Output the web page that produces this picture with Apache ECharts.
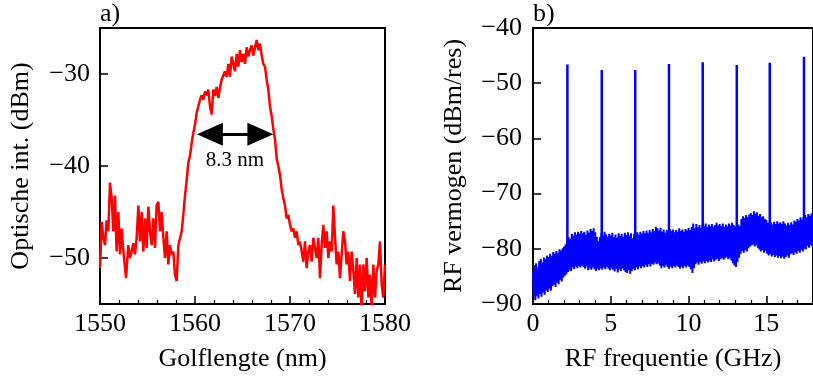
<!DOCTYPE html>
<html>
<head>
<meta charset="utf-8">
<script src="https://cdn.jsdelivr.net/npm/echarts@6/dist/echarts.min.js"></script>
<style>html,body{margin:0;padding:0;background:#fff}#c{width:813px;height:377px}</style>
</head>
<body>
<div id="c"></div>
<script>
// ---------- Panel a) optical spectrum ----------
const optWavelength = [
1550.00,1550.18,1550.35,1550.53,1550.70,1550.88,1551.05,1551.23,1551.40,1551.58,
1551.75,1551.93,1552.11,1552.28,1552.46,1552.74,1552.98,1553.16,1553.33,1553.51,
1553.68,1553.86,1554.04,1554.21,1554.39,1554.56,1554.74,1554.91,1555.09,1555.26,
1555.44,1555.61,1555.79,1555.96,1556.14,1556.32,1556.49,1556.67,1556.84,1557.02,
1557.19,1557.37,1557.54,1557.72,1557.89,1558.07,1558.25,1558.42,1558.60,1558.77,
1558.95,1559.12,1559.30,1559.47,1559.65,1559.82,1560.00,1560.18,1560.35,1560.53,
1560.70,1560.88,1561.05,1561.23,1561.40,1561.58,1561.75,1561.93,1562.11,1562.28,
1562.46,1562.63,1562.81,1562.98,1563.16,1563.33,1563.51,1563.68,1563.86,1564.04,
1564.21,1564.39,1564.56,1564.74,1564.91,1565.09,1565.26,1565.44,1565.61,1565.79,
1565.96,1566.14,1566.32,1566.49,1566.67,1566.84,1567.02,1567.19,1567.37,1567.54,
1567.72,1567.89,1568.07,1568.25,1568.42,1568.60,1568.77,1568.95,1569.12,1569.30,
1569.47,1569.65,1569.82,1570.00,1570.18,1570.35,1570.53,1570.70,1570.88,1571.05,
1571.23,1571.40,1571.58,1571.75,1571.93,1572.11,1572.28,1572.46,1572.63,1572.81,
1572.98,1573.16,1573.33,1573.51,1573.68,1573.86,1574.04,1574.21,1574.39,1574.56,
1574.74,1574.91,1575.09,1575.26,1575.44,1575.61,1575.79,1575.96,1576.14,1576.32,
1576.49,1576.67,1576.84,1577.02,1577.19,1577.37,1577.54,1577.72,1577.89,1578.07,
1578.25,1578.42,1578.60,1578.77,1578.95,1579.12,1579.30,1579.47,1579.65,1579.82,
1580.00
];
const optPower = [
-51.1,-46.1,-47.8,-48.6,-45.9,-47.1,-41.8,-43.5,-47.1,-43.2,
-49.3,-45.0,-49.6,-46.8,-49.3,-52.2,-48.6,-50.0,-49.3,-48.4,
-49.6,-47.8,-44.3,-48.2,-45.0,-49.3,-45.7,-48.9,-44.4,-47.1,
-48.6,-45.7,-48.9,-44.3,-43.9,-47.1,-45.0,-47.8,-50.0,-47.1,
-50.7,-48.6,-49.6,-49.3,-51.8,-52.5,-48.6,-48.6,-47.1,-45.3,
-43.2,-41.6,-39.6,-38.9,-37.5,-36.4,-35.5,-34.2,-33.5,-32.8,
-32.3,-32.8,-31.9,-32.3,-31.7,-33.5,-34.4,-31.7,-32.4,-31.4,
-32.6,-31.5,-30.6,-30.8,-29.7,-30.3,-28.9,-30.3,-28.1,-28.9,
-29.7,-27.8,-29.2,-27.4,-28.7,-27.8,-28.9,-27.1,-28.1,-27.4,
-26.9,-28.0,-27.1,-26.3,-27.4,-26.7,-28.0,-28.9,-29.2,-30.6,
-31.7,-33.5,-34.6,-36.0,-37.1,-39.2,-40.0,-41.0,-42.5,-43.5,
-44.3,-45.7,-45.3,-46.4,-47.1,-46.8,-47.8,-47.1,-48.6,-48.2,
-49.3,-50.4,-48.2,-51.1,-49.3,-48.6,-50.4,-47.8,-48.9,-50.0,
-47.8,-52.2,-48.6,-46.4,-48.9,-47.1,-50.0,-48.2,-49.3,-44.3,
-47.8,-50.7,-49.3,-52.2,-49.6,-47.1,-48.2,-50.7,-49.3,-52.5,
-49.3,-51.4,-53.9,-50.0,-54.3,-50.7,-56.0,-50.7,-53.6,-50.0,
-54.3,-51.8,-55.4,-50.7,-54.3,-51.4,-50.7,-48.2,-52.9,-54.3,
-50.7
];
const optXTicks = [1550, 1560, 1570, 1580];
const optYTicks = [-50, -40, -30];
const arrowFromNm = 1560.2, arrowToNm = 1568.25, arrowLevelDb = -36.55;
const arrowText = '8.3 nm';
const arrowTextPos = [1564.2, -39.4];

// ---------- Panel b) RF spectrum ----------
const rfStepGHz = 0.1; // trace sampled every 0.1 GHz from 0 to 18 GHz
const rfUpper = [
-84.0,-83.0,-82.6,-83.4,-82.2,-81.8,-82.5,-81.6,-81.9,-81.2,
-81.5,-80.9,-81.3,-80.6,-80.9,-80.4,-80.7,-80.1,-80.3,-79.9,
-79.6,-79.2,-78.4,-77.9,-78.2,-77.3,-77.6,-77.0,-77.4,-76.9,
-77.3,-76.8,-77.2,-76.9,-77.5,-76.7,-77.1,-76.4,-76.8,-76.3,
-77.0,-77.8,-78.6,-77.9,-77.2,-77.6,-76.9,-77.4,-77.8,-77.3,
-77.6,-77.1,-77.9,-77.4,-78.0,-77.2,-77.7,-77.3,-77.8,-77.1,
-77.5,-77.0,-77.6,-77.2,-78.1,-77.3,-77.6,-77.0,-77.4,-76.9,
-77.3,-76.8,-77.2,-76.7,-77.1,-76.6,-77.0,-76.4,-76.8,-76.0,
-76.3,-76.7,-76.2,-76.9,-76.5,-77.1,-76.6,-76.9,-76.4,-76.8,
-76.5,-77.0,-76.6,-76.9,-76.3,-76.8,-76.5,-76.9,-76.4,-76.7,
-76.2,-76.6,-76.0,-75.4,-76.3,-75.5,-76.1,-75.7,-76.2,-75.6,
-75.9,-75.4,-76.1,-75.6,-75.9,-75.5,-76.0,-75.7,-75.3,-75.8,
-75.5,-75.9,-75.4,-76.0,-75.6,-75.9,-75.4,-75.8,-75.3,-75.7,
-75.9,-76.2,-75.6,-75.9,-74.6,-74.1,-74.4,-73.9,-74.3,-73.8,
-73.5,-73.9,-73.2,-73.6,-73.4,-74.0,-73.7,-74.3,-74.1,-74.6,
-74.8,-75.3,-75.7,-75.2,-75.6,-75.1,-75.5,-75.0,-75.4,-75.2,
-75.5,-75.0,-75.4,-75.8,-75.3,-75.7,-75.2,-75.6,-74.9,-75.1,
-74.6,-74.9,-74.3,-74.7,-74.2,-73.9,-74.3,-73.7,-74.0,-73.6,
-73.8
];
const rfLower = [
-88.5,-89.3,-88.6,-89.0,-88.2,-88.7,-87.9,-88.3,-87.5,-87.8,
-87.2,-87.6,-86.8,-86.5,-86.9,-86.1,-86.4,-85.6,-85.9,-85.2,
-84.9,-84.6,-84.2,-83.8,-84.0,-83.4,-83.7,-83.2,-83.5,-83.1,
-83.4,-83.0,-83.3,-83.6,-83.2,-83.9,-83.5,-83.8,-83.4,-83.7,
-84.0,-83.6,-83.9,-83.5,-83.8,-83.4,-83.7,-83.3,-83.6,-83.9,
-83.5,-83.8,-84.1,-83.6,-84.3,-83.7,-84.0,-83.5,-83.9,-84.2,
-84.4,-83.9,-84.5,-84.0,-83.6,-83.9,-83.4,-83.7,-83.2,-83.5,
-83.1,-83.4,-82.9,-83.3,-82.8,-83.2,-82.7,-82.9,-82.5,-82.8,
-82.6,-83.0,-83.5,-83.1,-83.4,-82.9,-83.3,-83.6,-83.2,-83.5,
-83.1,-83.4,-83.0,-83.3,-83.6,-83.2,-83.5,-83.1,-83.4,-83.0,
-83.3,-83.7,-84.4,-83.5,-82.8,-82.5,-82.9,-82.4,-82.7,-82.3,
-82.6,-82.2,-82.5,-82.1,-82.4,-81.9,-82.3,-82.0,-81.8,-82.2,
-81.9,-81.6,-82.0,-81.7,-81.5,-81.9,-81.6,-82.1,-82.6,-83.0,
-83.3,-82.4,-81.6,-80.9,-80.4,-80.7,-80.2,-80.5,-79.9,-79.6,
-79.4,-79.2,-79.6,-79.3,-79.8,-80.1,-80.5,-80.2,-80.7,-80.4,
-80.9,-81.2,-81.0,-81.4,-81.1,-81.5,-81.2,-81.6,-81.3,-81.7,
-81.4,-81.8,-81.5,-81.2,-81.6,-81.0,-80.8,-81.1,-80.6,-80.9,
-80.4,-80.7,-80.2,-80.5,-79.9,-80.1,-79.5,-79.8,-79.3,-79.6,
-79.4
];
const spikeFreq = [2.21, 4.42, 6.57, 8.74, 10.91, 13.10, 15.22, 17.42];
const spikePeak = [-46.6, -47.6, -47.6, -46.5, -46.2, -46.7, -46.3, -45.2];
const spikeFloor = -80;
const rfXTicks = [0, 5, 10, 15];
const rfXMinorTicks = [1, 2, 3, 4, 6, 7, 8, 9, 11, 12, 13, 14, 16, 17];
const rfYTicks = [-90, -80, -70, -60, -50, -40];

// ---------- build ----------
const FONT = '"Liberation Serif", "DejaVu Serif", serif';
const fmt = v => (v < 0 ? '\u2212' + (-v) : String(v));
const opticalData = optWavelength.map((w, i) => [w, optPower[i]]);
const rfTrace = [];
rfUpper.forEach((u, i) => {
  rfTrace.push([i * rfStepGHz, u]);
  rfTrace.push([i * rfStepGHz + rfStepGHz / 2, rfLower[i]]);
});
const spikeData = [];
spikeFreq.forEach((f, i) => {
  spikeData.push([f, spikeFloor], [f, spikePeak[i]], [f, '-']);
});

// arrow heads: triangle centred at the endpoint; shift endpoints inward by half head length
const gridW = 285, headLen = 26, headW = 23;
const nmPerPx = (optXTicks[optXTicks.length - 1] - optXTicks[0]) / gridW;
const inset = headLen / 2 * nmPerPx;

const tickStyle = { inside: true, length: 8, lineStyle: { color: '#000', width: 1.5 } };
const labelStyle = { color: '#000', fontSize: 26, fontFamily: FONT, formatter: fmt };
const nameStyle = { color: '#000', fontSize: 26, fontFamily: FONT };

const chart = echarts.init(document.getElementById('c'), null, { renderer: 'canvas' });
chart.setOption({
  animation: false,
  backgroundColor: '#fff',
  textStyle: { fontFamily: FONT },
  grid: [
    { left: 100, top: 28, width: gridW, height: 278, show: true, borderColor: '#000', borderWidth: 2, backgroundColor: 'transparent' },
    { left: 533, top: 28, width: 285, height: 278, show: true, borderColor: '#000', borderWidth: 2, backgroundColor: 'transparent' }
  ],
  xAxis: [
    { gridIndex: 0, type: 'value', min: 1550, max: 1580, interval: 10,
      axisLine: { show: false }, splitLine: { show: false },
      axisTick: Object.assign({}, tickStyle),
      minorTick: { show: true, splitNumber: 5, length: 4, lineStyle: { color: '#000', width: 1.2 } },
      axisLabel: Object.assign({ margin: 7 }, labelStyle),
      name: 'Golflengte (nm)', nameLocation: 'middle', nameGap: 42, nameTextStyle: nameStyle },
    { gridIndex: 1, type: 'value', min: 0, max: 18,
      axisLine: { show: false }, splitLine: { show: false },
      axisTick: Object.assign({ customValues: rfXTicks }, tickStyle),
      axisLabel: Object.assign({ margin: 7, customValues: rfXTicks }, labelStyle),
      name: 'RF frequentie (GHz)', nameLocation: 'middle', nameGap: 42, nameTextStyle: nameStyle },
    { gridIndex: 1, type: 'value', min: 0, max: 18, position: 'bottom',
      axisLine: { show: false }, splitLine: { show: false }, axisLabel: { show: false },
      axisTick: { inside: true, length: 4, customValues: rfXMinorTicks, lineStyle: { color: '#000', width: 1.2 } } }
  ],
  yAxis: [
    { gridIndex: 0, type: 'value', min: -55, max: -25,
      axisLine: { show: false }, splitLine: { show: false },
      axisTick: Object.assign({ customValues: optYTicks }, tickStyle),
      axisLabel: Object.assign({ margin: 10, customValues: optYTicks }, labelStyle),
      name: 'Optische int. (dBm)', nameLocation: 'middle', nameGap: 66, nameTextStyle: nameStyle },
    { gridIndex: 1, type: 'value', min: -90, max: -40,
      axisLine: { show: false }, splitLine: { show: false },
      axisTick: Object.assign({ customValues: rfYTicks }, tickStyle),
      axisLabel: Object.assign({ margin: 11, customValues: rfYTicks }, labelStyle),
      name: 'RF vermogen (dBm/res)', nameLocation: 'middle', nameGap: 66, nameTextStyle: nameStyle }
  ],
  series: [
    { type: 'line', xAxisIndex: 0, yAxisIndex: 0, data: opticalData, showSymbol: false, symbol: 'none',
      lineStyle: { color: '#ff0000', width: 2.5 }, clip: true,
      markLine: {
        silent: true, symbol: ['triangle', 'triangle'], symbolSize: [headW, headLen],
        lineStyle: { color: '#000', width: 3, type: 'solid' }, label: { show: false },
        data: [[{ coord: [arrowFromNm + inset, arrowLevelDb] }, { coord: [arrowToNm - inset, arrowLevelDb] }]]
      },
      markPoint: {
        silent: true, symbol: 'circle', symbolSize: 0,
        label: { show: true, position: 'inside', color: '#000', fontSize: 21, fontFamily: FONT, formatter: () => arrowText },
        data: [{ coord: arrowTextPos }]
      }
    },
    { type: 'line', xAxisIndex: 1, yAxisIndex: 1, data: rfTrace, showSymbol: false, symbol: 'none',
      lineStyle: { color: '#0000ff', width: 2 }, clip: true },
    { type: 'line', xAxisIndex: 1, yAxisIndex: 1, data: spikeData, showSymbol: false, symbol: 'none',
      connectNulls: false, lineStyle: { color: '#0000ff', width: 2.5 }, clip: true }
  ],
  graphic: [
    { type: 'text', left: 100, top: 1, style: { text: 'a)', font: '26px ' + FONT, fill: '#000' } },
    { type: 'text', left: 533, top: 1, style: { text: 'b)', font: '26px ' + FONT, fill: '#000' } }
  ]
});
</script>
</body>
</html>
